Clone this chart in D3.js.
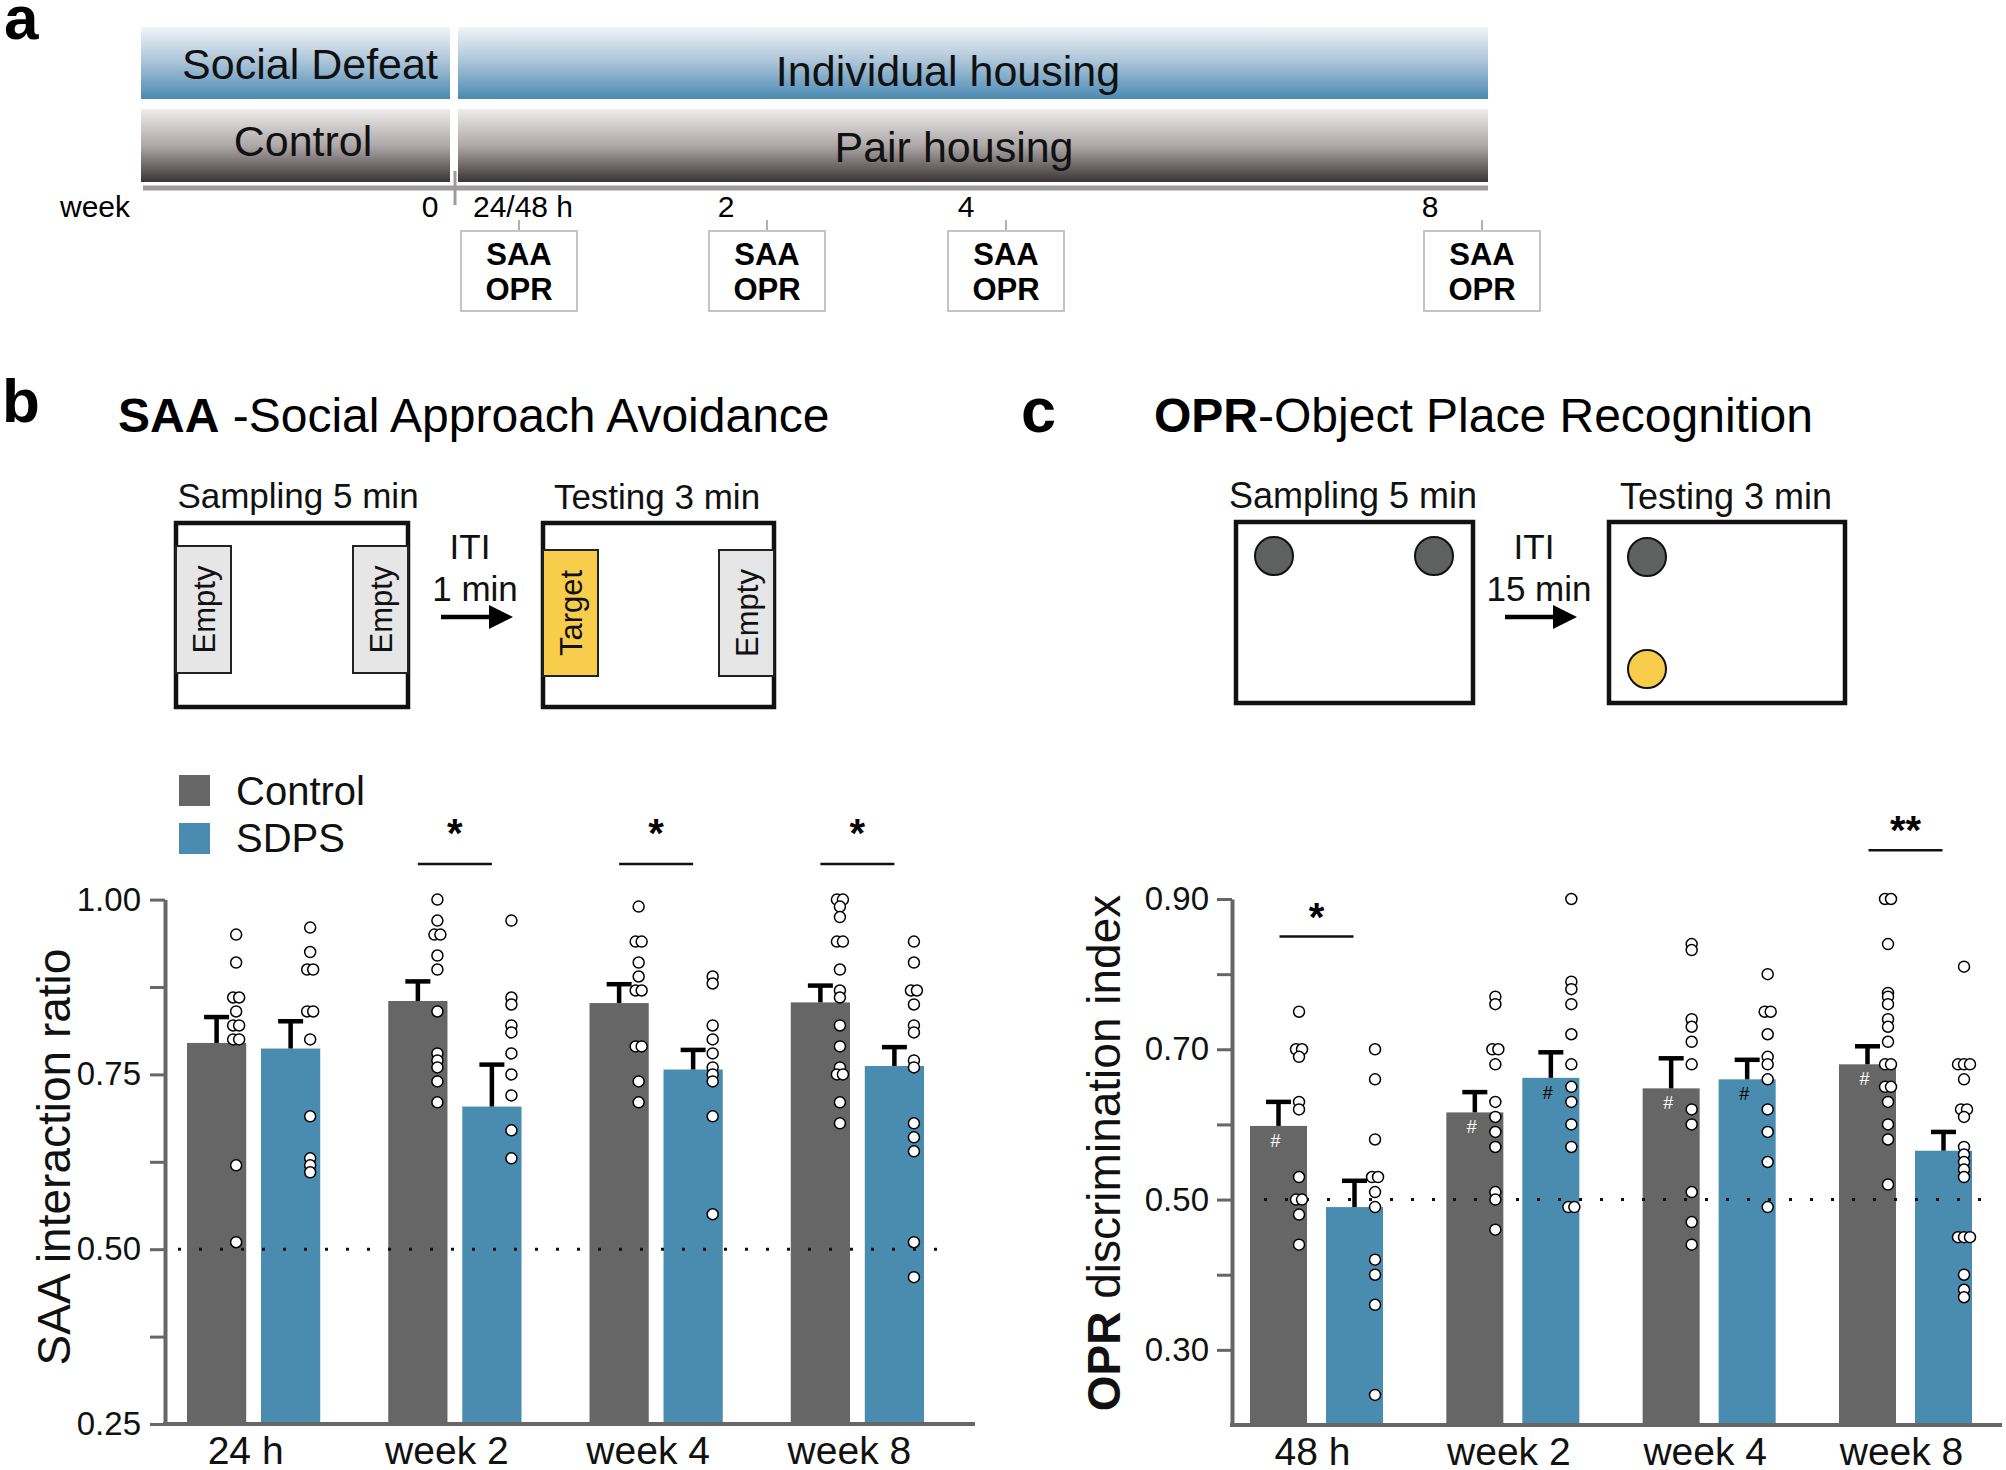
<!DOCTYPE html>
<html>
<head>
<meta charset="utf-8">
<script src="https://cdn.jsdelivr.net/npm/d3@7"></script>
<style>
body{margin:0;background:#fff}
svg{display:block;font-family:"Liberation Sans",Arial,Helvetica,sans-serif}
</style>
</head>
<body>
<svg id="fig" width="2006" height="1470"></svg>
<script>
// ---------- data ----------
var groupNames = ["Control","SDPS"];
var groupColors = ["#666666","#4a8bb0"];

// panel a timeline
var timeWeeks  = [0, 0.2, 2, 4, 8];
var timeLabels = ["0","24/48 h","2","4","8"];
var testWeeks  = [0.2, 2, 4, 8];
var testNames  = ["SAA","OPR"];
var rowSegments = [["Social Defeat","Individual housing"],["Control","Pair housing"]];

// panel b  SAA
var saaCats = ["24 h","week 2","week 4","week 8"];
var saaMeanCtrl = [0.795, 0.855, 0.852, 0.853];
var saaSemCtrl  = [0.037, 0.028, 0.027, 0.024];
var saaMeanSdps = [0.787, 0.704, 0.757, 0.762];
var saaSemSdps  = [0.039, 0.060, 0.028, 0.027];
var saaPtsCtrl = [
  [0.95,0.91,0.86,0.86,0.84,0.82,0.82,0.80,0.80,0.62,0.51],
  [1.00,0.97,0.95,0.95,0.92,0.90,0.84,0.78,0.77,0.76,0.74,0.71],
  [0.99,0.94,0.94,0.91,0.89,0.87,0.87,0.79,0.79,0.74,0.71],
  [1.00,1.00,0.99,0.975,0.94,0.94,0.90,0.87,0.86,0.82,0.79,0.76,0.75,0.75,0.71,0.68]
];
var saaPtsSdps = [
  [0.96,0.925,0.90,0.90,0.84,0.84,0.80,0.69,0.63,0.62,0.61],
  [0.97,0.86,0.85,0.82,0.81,0.78,0.75,0.72,0.67,0.63],
  [0.89,0.88,0.82,0.80,0.78,0.76,0.75,0.74,0.69,0.55],
  [0.94,0.91,0.87,0.87,0.85,0.82,0.81,0.77,0.76,0.68,0.66,0.64,0.51,0.46]
];
var saaSig  = ["", "*", "*", "*"];
var saaSigY = [null, 1.051, 1.051, 1.051];
var saaTicks = [0.25,0.375,0.5,0.625,0.75,0.875,1.0];
var saaTickLabels = [0.25,0.5,0.75,1.0];

// panel c  OPR
var oprCats = ["48 h","week 2","week 4","week 8"];
var oprMeanCtrl = [0.598, 0.616, 0.648, 0.680];
var oprSemCtrl  = [0.032, 0.027, 0.040, 0.024];
var oprMeanSdps = [0.490, 0.662, 0.660, 0.565];
var oprSemSdps  = [0.035, 0.034, 0.026, 0.025];
var oprPtsCtrl = [
  [0.75,0.70,0.70,0.69,0.63,0.62,0.53,0.50,0.50,0.48,0.44],
  [0.77,0.76,0.70,0.70,0.68,0.63,0.61,0.59,0.57,0.51,0.50,0.46],
  [0.84,0.832,0.74,0.73,0.71,0.68,0.62,0.60,0.51,0.47,0.44],
  [0.90,0.90,0.84,0.775,0.77,0.76,0.74,0.73,0.71,0.68,0.68,0.65,0.65,0.63,0.60,0.58,0.52]
];
var oprPtsSdps = [
  [0.70,0.66,0.58,0.53,0.53,0.51,0.49,0.42,0.40,0.36,0.24],
  [0.90,0.79,0.78,0.76,0.72,0.68,0.65,0.63,0.60,0.57,0.49,0.49],
  [0.80,0.75,0.75,0.72,0.69,0.68,0.66,0.62,0.59,0.55,0.49],
  [0.81,0.68,0.68,0.68,0.66,0.62,0.62,0.61,0.57,0.56,0.55,0.54,0.53,0.45,0.45,0.45,0.40,0.38,0.37]
];
var oprHashCtrl = [true, true, true, true];
var oprHashSdps = [false, true, true, false];
var oprSig  = ["*", "", "", "**"];
var oprSigY = [0.850, null, null, 0.965];
var oprTicks = [0.3,0.4,0.5,0.6,0.7,0.8,0.9];
var oprTickLabels = [0.3,0.5,0.7,0.9];

// ---------- drawing ----------
var svg = d3.select("#fig");
var defs = svg.append("defs");

function grad(id, stops){
  var g = defs.append("linearGradient").attr("id",id)
      .attr("x1",0).attr("y1",0).attr("x2",0).attr("y2",1);
  stops.forEach(function(s){ g.append("stop").attr("offset",s[0]).attr("stop-color",s[1]); });
}
grad("gBlue", [[0,"#f1f4f8"],[0.5,"#a8c2d7"],[1,"#4a8ab2"]]);
grad("gGray", [[0,"#eeecec"],[0.5,"#aea8a8"],[1,"#3a3434"]]);

// panel letters
svg.append("text").attr("x",4).attr("y",39).attr("font-size",62).attr("font-weight","bold").text("a");
svg.append("text").attr("x",2).attr("y",422).attr("font-size",62).attr("font-weight","bold").text("b");
svg.append("text").attr("x",1021).attr("y",432).attr("font-size",63).attr("font-weight","bold").text("c");

// ----- panel a -----
var rowTop = [27, 109], rowH = [72, 73];
var segX = [[141,450],[458,1488]];
var rowFill = ["url(#gBlue)","url(#gGray)"];
var segTextX = [[310,948],[303,954]];
var segTextY = [[79,86],[156,162]];
rowSegments.forEach(function(row, r){
  row.forEach(function(name, s){
    svg.append("rect").attr("x",segX[s][0]).attr("y",rowTop[r])
      .attr("width",segX[s][1]-segX[s][0]).attr("height",rowH[r]).attr("fill",rowFill[r]);
    svg.append("text").attr("x",segTextX[r][s]).attr("y",segTextY[r][s])
      .attr("text-anchor","middle").attr("font-size",s==0?43:43).attr("fill","#111").text(name);
  });
});

var tl = d3.scaleLinear().domain(timeWeeks).range([455,519,767,1006,1482]);
var tlLab = d3.scaleLinear().domain(timeWeeks).range([430,523,726,966,1430]);
svg.append("line").attr("x1",143).attr("x2",1488).attr("y1",188).attr("y2",188)
  .attr("stroke","#9c9c9c").attr("stroke-width",5);
svg.append("line").attr("x1",tl(0)).attr("x2",tl(0)).attr("y1",171).attr("y2",205)
  .attr("stroke","#9c9c9c").attr("stroke-width",3);
svg.append("text").attr("x",60).attr("y",217).attr("font-size",30).text("week");
timeWeeks.forEach(function(w,i){
  svg.append("text").attr("x",tlLab(w)).attr("y",217).attr("text-anchor","middle")
    .attr("font-size",30).text(timeLabels[i]);
});
testWeeks.forEach(function(w){
  var cx = tl(w);
  svg.append("line").attr("x1",cx).attr("x2",cx).attr("y1",220).attr("y2",231)
    .attr("stroke","#999").attr("stroke-width",1.5);
  svg.append("rect").attr("x",cx-58).attr("y",231).attr("width",116).attr("height",80)
    .attr("fill","#fff").attr("stroke","#c4c4c4").attr("stroke-width",2);
  testNames.forEach(function(t,j){
    svg.append("text").attr("x",cx).attr("y",265+j*35).attr("text-anchor","middle")
      .attr("font-size",31).attr("font-weight","bold").text(t);
  });
});

// ----- titles -----
var t1 = svg.append("text").attr("x",118).attr("y",432).attr("font-size",48);
t1.append("tspan").attr("font-weight","bold").text("SAA");
t1.append("tspan").text(" -Social Approach Avoidance");
var t2 = svg.append("text").attr("x",1154).attr("y",432).attr("font-size",48);
t2.append("tspan").attr("font-weight","bold").text("OPR");
t2.append("tspan").text("-Object Place Recognition");

// ----- schematics -----
function label(x, y, s, size){
  svg.append("text").attr("x",x).attr("y",y).attr("text-anchor","middle")
    .attr("font-size",size||35).attr("fill","#111").text(s);
}
function arena(x, y, w, h){
  svg.append("rect").attr("x",x).attr("y",y).attr("width",w).attr("height",h)
    .attr("fill","#fff").attr("stroke","#111").attr("stroke-width",4.5);
}
function cage(x, y, w, h, fill, txt){
  svg.append("rect").attr("x",x).attr("y",y).attr("width",w).attr("height",h)
    .attr("fill",fill).attr("stroke","#222").attr("stroke-width",2);
  svg.append("text").attr("transform","translate("+(x+w/2)+","+(y+h/2)+") rotate(-90)")
    .attr("text-anchor","middle").attr("dy","0.36em").attr("font-size",31).attr("fill","#111").text(txt);
}
function arrow(x1, x2, y){
  svg.append("line").attr("x1",x1).attr("x2",x2-20).attr("y1",y).attr("y2",y)
    .attr("stroke","#000").attr("stroke-width",4.5);
  svg.append("path").attr("d","M"+(x2-24)+","+(y-12)+"L"+x2+","+y+"L"+(x2-24)+","+(y+12)+"Z").attr("fill","#000");
}

label(298, 508, "Sampling 5 min");
arena(176, 523, 232, 184);
cage(176, 546, 55, 127, "#e6e6e6", "Empty");
cage(353, 546, 55, 127, "#e6e6e6", "Empty");
label(470, 559, "ITI");
label(475, 601, "1 min");
arrow(441, 513, 617);
label(657, 509, "Testing 3 min");
arena(543, 523, 231, 184);
cage(543, 550, 55, 126, "#f8cd4c", "Target");
cage(719, 550, 55, 126, "#e6e6e6", "Empty");

label(1353, 508, "Sampling 5 min", 36);
arena(1236, 522, 237, 181);
label(1534, 559, "ITI");
label(1539, 601, "15 min");
arrow(1505, 1577, 617);
label(1726, 509, "Testing 3 min", 36);
arena(1609, 522, 236, 181);
function obj(cx, cy, fill){
  svg.append("circle").attr("cx",cx).attr("cy",cy).attr("r",19)
    .attr("fill",fill).attr("stroke","#111").attr("stroke-width",2);
}
obj(1274, 556, "#5f6161");
obj(1434, 556, "#5f6161");
obj(1647, 557, "#5f6161");
obj(1647, 669, "#f8cd4c");

// ----- bar charts -----
function drawChart(o){
  var g = svg.append("g");
  var y = d3.scaleLinear().domain(o.yDomain).range([o.yBottom, o.yTop]);
  var x = d3.scaleBand().domain(o.cats).range(o.xRange).paddingInner(o.padInner).paddingOuter(0);
  var xs = d3.scaleBand().domain(groupNames).range([0, x.bandwidth()]).paddingInner(o.subPad);
  var bw = xs.bandwidth();

  var rows = [];
  o.cats.forEach(function(c,i){
    rows.push({cat:c, gi:0, mean:o.meanC[i], sem:o.semC[i], pts:o.ptsC[i], hash:o.hashC?o.hashC[i]:false});
    rows.push({cat:c, gi:1, mean:o.meanS[i], sem:o.semS[i], pts:o.ptsS[i], hash:o.hashS?o.hashS[i]:false});
  });
  rows.forEach(function(r){ r.x0 = x(r.cat) + xs(groupNames[r.gi]); });

  g.selectAll("rect.bar").data(rows).enter().append("rect").attr("class","bar")
    .attr("x",function(d){ return d.x0; })
    .attr("y",function(d){ return y(d.mean); })
    .attr("width",bw)
    .attr("height",function(d){ return y(o.yDomain[0]) - y(d.mean); })
    .attr("fill",function(d){ return groupColors[d.gi]; });

  // reference line at 0.50
  g.append("line").attr("x1",o.dotLine[0]).attr("x2",o.dotLine[1])
    .attr("y1",y(0.5)).attr("y2",y(0.5))
    .attr("stroke","#111").attr("stroke-width",3).attr("stroke-dasharray","3,18");

  // y axis
  var ya = g.append("g").attr("transform","translate("+o.axisX+",0)")
    .call(d3.axisLeft(y).tickValues(o.ticks).tickSize(15).tickSizeOuter(0).tickPadding(o.tickPad)
      .tickFormat(function(d){
        return o.tickLabels.some(function(l){ return Math.abs(l-d)<1e-6; }) ? d3.format(".2f")(d) : "";
      }));
  ya.select(".domain").attr("stroke","#666").attr("stroke-width",4);
  ya.selectAll(".tick line").attr("stroke","#666").attr("stroke-width",3);
  ya.selectAll(".tick text").attr("font-size",33).attr("fill","#111")
    .attr("font-family","'Liberation Sans',Arial,sans-serif");

  // x axis
  g.append("line").attr("x1",o.axisX-2).attr("x2",o.xEnd)
    .attr("y1",y(o.yDomain[0])).attr("y2",y(o.yDomain[0]))
    .attr("stroke","#666").attr("stroke-width",4);
  var xa = g.append("g").attr("transform","translate(0,"+y(o.yDomain[0])+")")
    .call(d3.axisBottom(x).tickSize(0).tickPadding(12));
  xa.select(".domain").remove();
  xa.selectAll(".tick text").attr("font-size",39).attr("fill","#111").attr("dx",o.labelDx)
    .attr("font-family","'Liberation Sans',Arial,sans-serif");

  // error bars (upper SEM)
  rows.forEach(function(d){
    var cx = d.x0 + bw/2, yt = y(d.mean + d.sem);
    g.append("line").attr("x1",cx).attr("x2",cx).attr("y1",y(d.mean)).attr("y2",yt)
      .attr("stroke","#000").attr("stroke-width",4.5);
    g.append("line").attr("x1",cx-12.5).attr("x2",cx+12.5).attr("y1",yt).attr("y2",yt)
      .attr("stroke","#000").attr("stroke-width",4.5);
    if (d.hash) {
      g.append("text").attr("x",cx-3).attr("y",y(d.mean)+21).attr("text-anchor","middle")
        .attr("font-size",18).attr("fill",d.gi==0?"#fff":"#000").text("#");
    }
  });

  // individual points, duplicates nudged sideways
  rows.forEach(function(d){
    var base = d.x0 + bw*o.dotPos;
    var vals = d.pts.slice().sort(function(a,b){ return b-a; });
    var i = 0;
    while (i < vals.length) {
      var j = i;
      while (j+1 < vals.length && Math.abs(y(vals[j+1]) - y(vals[i])) < 3) j++;
      var n = j - i + 1;
      for (var k = 0; k < n; k++) {
        g.append("circle").attr("cx", base + (k-(n-1)/2)*6).attr("cy", y(vals[i+k])).attr("r",5.5)
          .attr("fill","#fff").attr("stroke","#000").attr("stroke-width",1.5);
      }
      i = j + 1;
    }
  });

  // significance
  o.cats.forEach(function(c,i){
    if (!o.sig[i]) return;
    var cx = x(c) + x.bandwidth()/2, ly = y(o.sigY[i]);
    g.append("line").attr("x1",cx-37).attr("x2",cx+37).attr("y1",ly).attr("y2",ly)
      .attr("stroke","#111").attr("stroke-width",2.5);
    g.append("text").attr("x",cx).attr("y",ly-o.starGap).attr("text-anchor","middle")
      .attr("font-size",40).attr("font-weight","bold").text(o.sig[i]);
  });
}

drawChart({
  cats:saaCats, meanC:saaMeanCtrl, semC:saaSemCtrl, meanS:saaMeanSdps, semS:saaSemSdps,
  ptsC:saaPtsCtrl, ptsS:saaPtsSdps, sig:saaSig, sigY:saaSigY,
  yDomain:[0.25,1.0], yTop:899.6, yBottom:1424, xRange:[187,924], padInner:0.338, subPad:0.2,
  axisX:165, xEnd:975, tickPad:9, ticks:saaTicks, tickLabels:saaTickLabels,
  dotLine:[178,950], dotPos:0.83, starGap:17, labelDx:-8
});
drawChart({
  cats:oprCats, meanC:oprMeanCtrl, semC:oprSemCtrl, meanS:oprMeanSdps, semS:oprSemSdps,
  ptsC:oprPtsCtrl, ptsS:oprPtsSdps, hashC:oprHashCtrl, hashS:oprHashSdps, sig:oprSig, sigY:oprSigY,
  yDomain:[0.2,0.9], yTop:899, yBottom:1425, xRange:[1250,1972], padInner:0.3225, subPad:0.25,
  axisX:1232, xEnd:2002, tickPad:8, ticks:oprTicks, tickLabels:oprTickLabels,
  dotLine:[1264,1992], dotPos:0.86, starGap:6, labelDx:-4
});

// axis titles
svg.append("text").attr("transform","translate(70,1157) rotate(-90)").attr("text-anchor","middle")
  .attr("font-size",46).attr("fill","#111").text("SAA interaction ratio");
var yl = svg.append("text").attr("transform","translate(1120,1153) rotate(-90)")
  .attr("text-anchor","middle").attr("font-size",46).attr("fill","#111");
yl.append("tspan").attr("font-weight","bold").text("OPR");
yl.append("tspan").text(" discrimination index");

// legend
groupNames.forEach(function(n,i){
  svg.append("rect").attr("x",179).attr("y",775+i*48).attr("width",31).attr("height",31)
    .attr("fill",groupColors[i]);
  svg.append("text").attr("x",236).attr("y",805+i*47).attr("font-size",40).attr("fill","#111").text(n);
});
</script>
</body>
</html>
